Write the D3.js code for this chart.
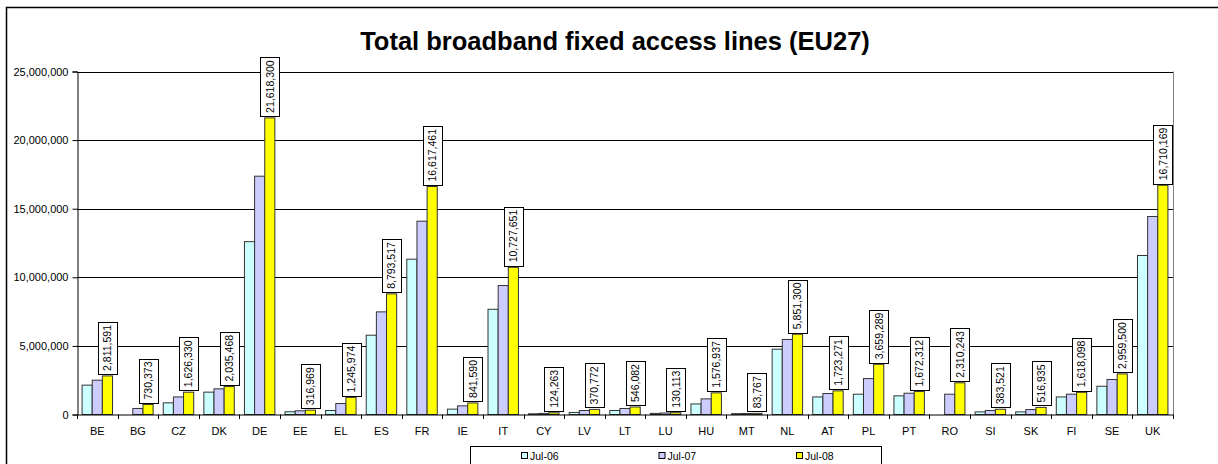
<!DOCTYPE html>
<html>
<head>
<meta charset="utf-8">
<script src="https://cdn.jsdelivr.net/npm/d3@7/dist/d3.min.js"></script>
<style>
  html, body { margin: 0; padding: 0; background: #fff; }
  svg { display: block; }
  text { font-family: "Liberation Sans", Arial, sans-serif; fill: #000; }
</style>
</head>
<body>
<svg id="chart" width="1218" height="464"></svg>
<script>
const title = "Total broadband fixed access lines (EU27)";
const categories = ["BE","BG","CZ","DK","DE","EE","EL","ES","FR","IE","IT","CY","LV","LT","LU","HU","MT","NL","AT","PL","PT","RO","SI","SK","FI","SE","UK"];
const seriesNames = ["Jul-06", "Jul-07", "Jul-08"];
const seriesColors = ["#CCFFFF", "#CCCCFF", "#FFFF00"];
const jul06 = [2140000, 0, 850000, 1630000, 12600000, 200000, 290000, 5780000, 11320000, 390000, 7670000, 50000, 150000, 290000, 80000, 770000, 60000, 4760000, 1280000, 1480000, 1360000, 0, 190000, 190000, 1280000, 2060000, 11590000];
const jul07 = [2500000, 440000, 1280000, 1870000, 17370000, 270000, 800000, 7480000, 14090000, 630000, 9400000, 80000, 290000, 440000, 110000, 1140000, 70000, 5470000, 1530000, 2620000, 1550000, 1480000, 290000, 360000, 1480000, 2550000, 14430000];
const jul08 = [2811591, 730373, 1626330, 2035468, 21618300, 316969, 1245974, 8793517, 16617461, 841590, 10727651, 124263, 370772, 546082, 130113, 1576937, 83767, 5851300, 1723271, 3659289, 1672312, 2310243, 383521, 516935, 1618098, 2959500, 16710169];
const yTicks = [0, 5000000, 10000000, 15000000, 20000000, 25000000];

const seriesValues = [jul06, jul07, jul08];
const svg = d3.select("#chart");

// outer chart border
svg.append("rect").attr("x", 6.5).attr("y", 7.5).attr("width", 1230).attr("height", 480)
  .attr("fill", "#fff").attr("stroke", "#000").attr("stroke-width", 1.5);

const L = 77, R = 1173, T = 71.5, B = 414.5;
const x0 = d3.scaleBand().domain(categories).range([L, R]).padding(0);
const bw = x0.bandwidth();
const x1 = d3.scaleBand().domain(seriesNames).range([bw / 8, bw * 7 / 8]).padding(0);
const y = d3.scaleLinear().domain([0, 25000000]).range([B, T]);

// title
svg.append("text").attr("x", 615).attr("y", 50).attr("text-anchor", "middle")
  .style("font-size", "25.5px").style("font-weight", "bold").text(title);

// gridlines
svg.append("g").selectAll("line").data(yTicks.filter(d => d > 0)).join("line")
  .attr("x1", L).attr("x2", R).attr("y1", d => Math.round(y(d)) + 0.5).attr("y2", d => Math.round(y(d)) + 0.5)
  .attr("stroke", "#000").attr("stroke-width", 1);

// plot right border
svg.append("line").attr("x1", R + 0.5).attr("x2", R + 0.5).attr("y1", T).attr("y2", B)
  .attr("stroke", "#808080").attr("stroke-width", 1);

// bars
const rows = categories.map((c, i) => ({ c, vals: seriesNames.map((s, j) => ({ s, j, v: seriesValues[j][i] })) }));
const groups = svg.append("g").selectAll("g").data(rows).join("g")
  .attr("transform", d => `translate(${x0(d.c)},0)`);
groups.selectAll("rect").data(d => d.vals.filter(e => e.v > 0)).join("rect")
  .attr("x", e => x1(e.s)).attr("width", x1.bandwidth())
  .attr("y", e => y(e.v)).attr("height", e => B - y(e.v))
  .attr("fill", e => seriesColors[e.j]).attr("stroke", "#333").attr("stroke-width", 1);

// y axis
const yAxis = d3.axisLeft(y).tickValues(yTicks).tickFormat(d3.format(",")).tickSize(5).tickPadding(4);
const gy = svg.append("g").attr("transform", `translate(${L + 0.5},0)`).call(yAxis);
gy.select(".domain").attr("stroke", "#000");
gy.selectAll(".tick line").attr("stroke", "#000");
gy.selectAll(".tick text").style("font-size", "11px").style("font-family", "Liberation Sans, Arial, sans-serif").attr("fill", "#000");

// x axis
const xAxis = d3.axisBottom(x0).tickSize(0).tickPadding(13);
const gx = svg.append("g").attr("transform", `translate(0,${B})`).call(xAxis);
gx.select(".domain").attr("stroke", "#000");
gx.selectAll(".tick text").style("font-size", "11px").style("font-family", "Liberation Sans, Arial, sans-serif").attr("fill", "#000");
// category separator ticks
svg.append("g").selectAll("line").data(categories.concat(["end"])).join("line")
  .attr("x1", (d, i) => Math.round(L + i * bw) + 0.5).attr("x2", (d, i) => Math.round(L + i * bw) + 0.5)
  .attr("y1", B).attr("y2", B + 4.5).attr("stroke", "#000");

// data labels for Jul-08
const lab = svg.append("g");
categories.forEach((c, i) => {
  const v = jul08[i];
  const cx = x0(c) + x1("Jul-08") + x1.bandwidth() / 2;
  const bottom = y(v) - 2;
  const g = lab.append("g");
  const rect = g.append("rect");
  const t = g.append("text").attr("transform", `translate(${cx + 3.8},${bottom - 3}) rotate(-90)`)
    .style("font-size", "10.5px").text(d3.format(",")(v));
  const w = t.node().getComputedTextLength();
  rect.attr("x", Math.round(cx - 9.5) + 0.5).attr("width", 19)
    .attr("y", Math.round(bottom - w - 6) + 0.5).attr("height", Math.round(w + 6))
    .attr("fill", "#fff").attr("stroke", "#000").attr("stroke-width", 1);
});

// legend
svg.append("rect").attr("x", 470.5).attr("y", 446.5).attr("width", 411).attr("height", 40)
  .attr("fill", "#fff").attr("stroke", "#000").attr("stroke-width", 1);
const legX = [521, 658.5, 796];
seriesNames.forEach((s, j) => {
  svg.append("rect").attr("x", legX[j] + 0.5).attr("y", 452.5).attr("width", 6).attr("height", 6)
    .attr("fill", seriesColors[j]).attr("stroke", "#000");
  svg.append("text").attr("x", legX[j] + 9).attr("y", 459.5).style("font-size", "10.5px").text(s);
});
</script>
</body>
</html>
